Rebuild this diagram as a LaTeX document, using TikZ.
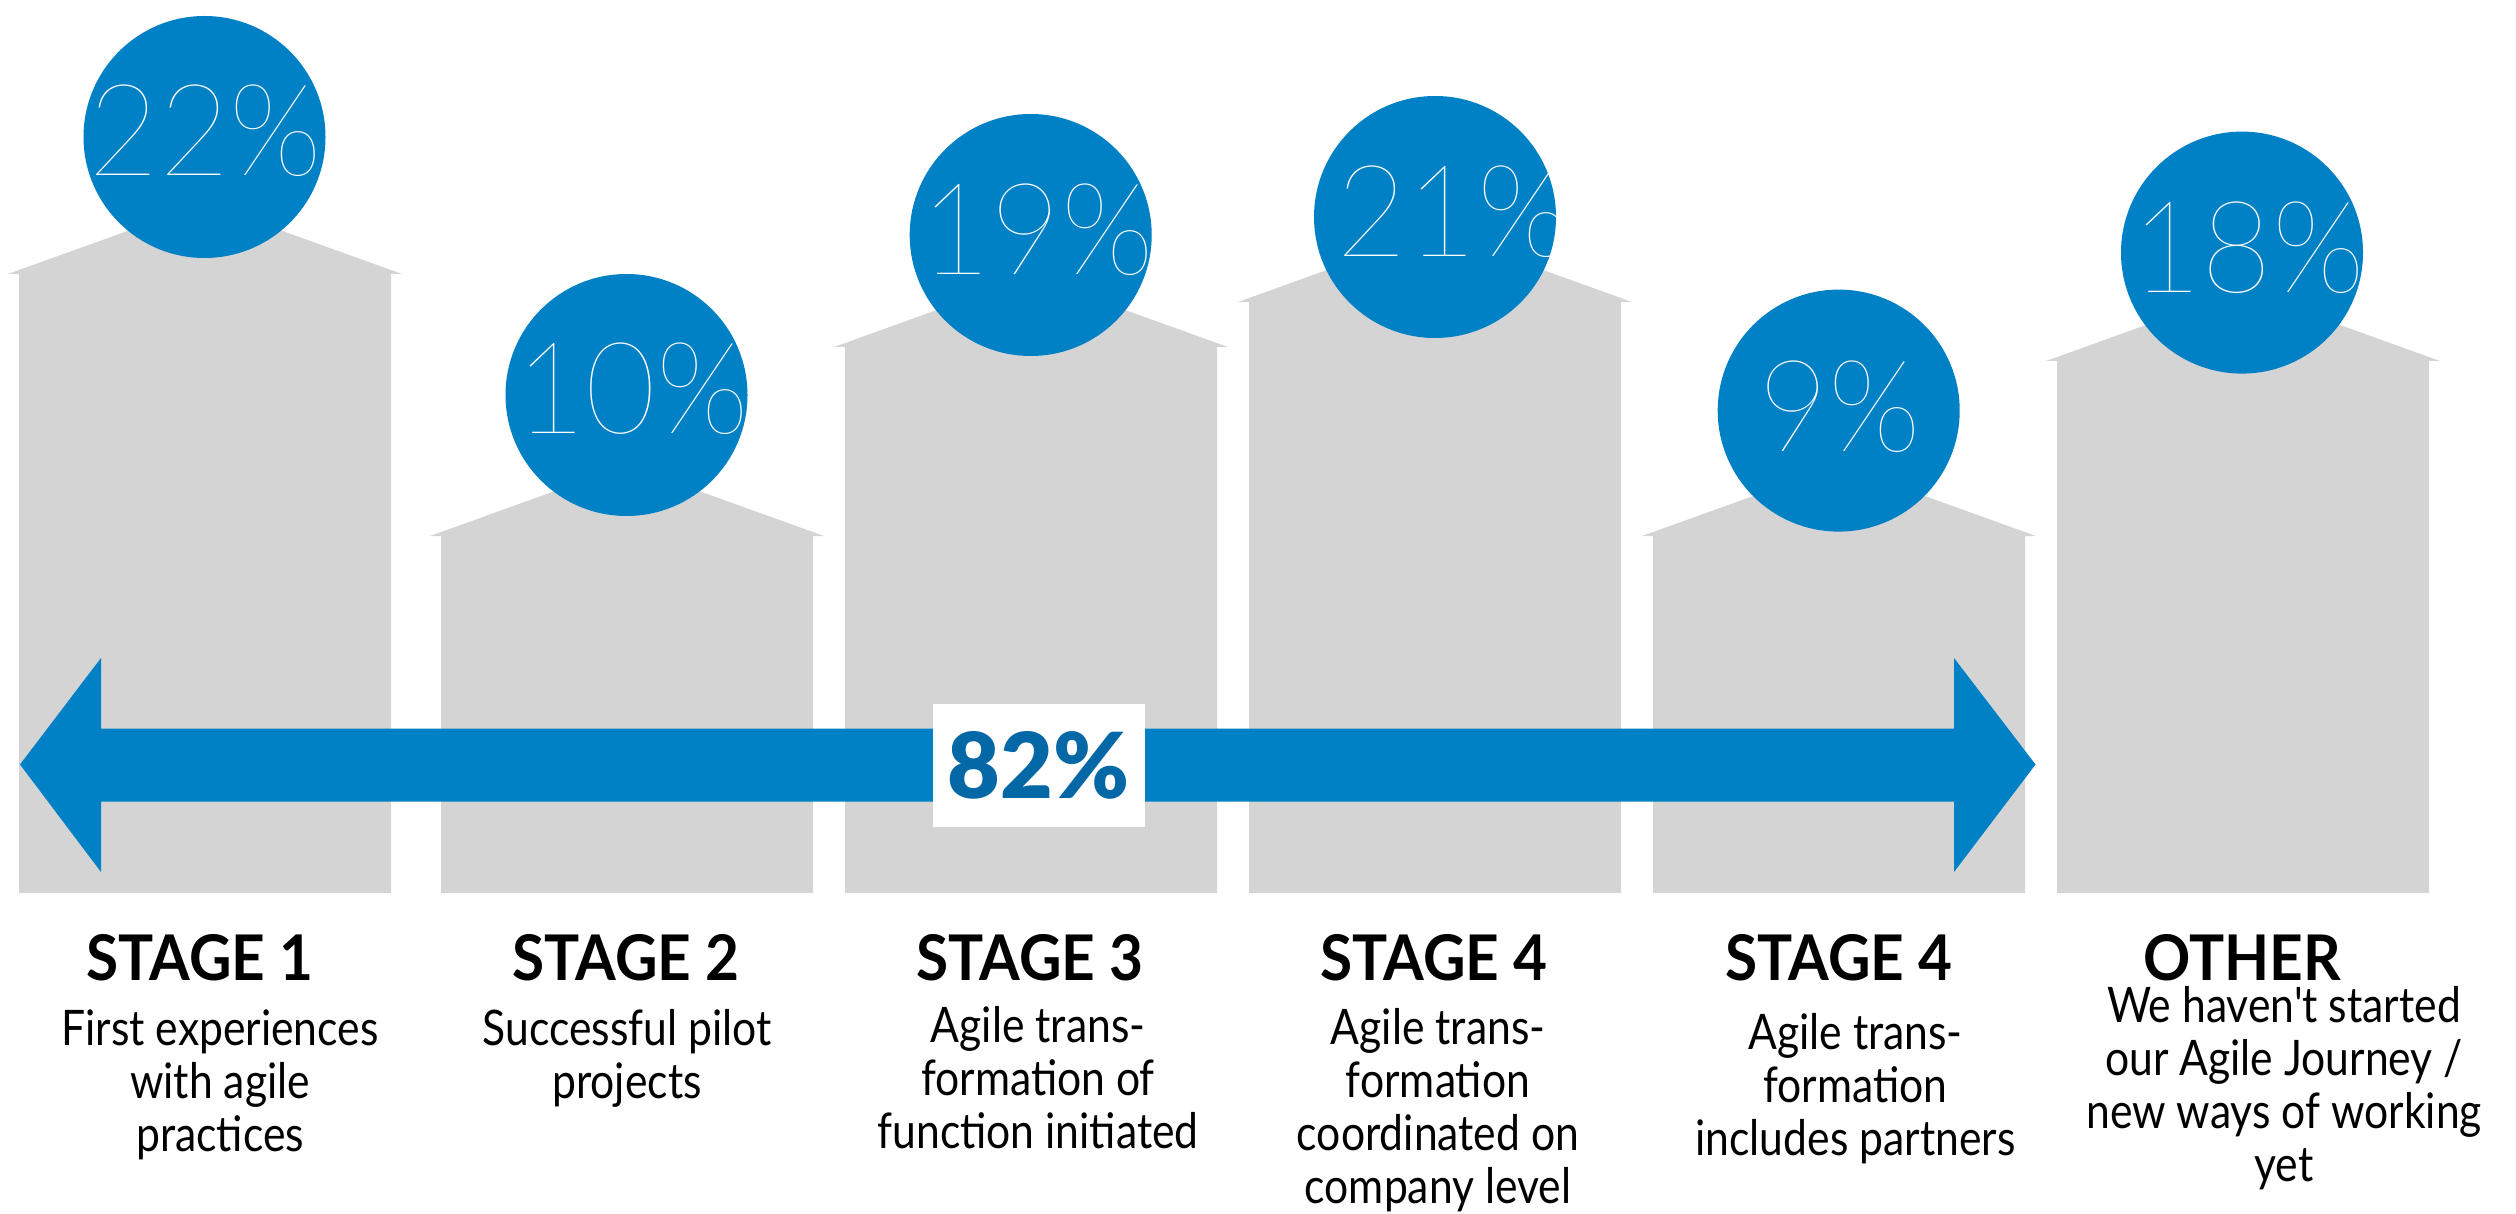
\documentclass[tikz,border=0pt]{standalone}
\usepackage{fontspec}
\setmainfont{Lato}
\newfontfamily\pctfont{Lato Thin}[FakeStretch=0.95]
\newfontfamily\headfont{Lato}[FakeStretch=0.93]
\newfontfamily\bodyfont{Lato}[FakeStretch=0.87]
\newfontfamily\sharefont{Lato Black}
\usetikzlibrary{shapes.geometric}

\definecolor{agileblue}{HTML}{0080C5}
\definecolor{deepblue}{HTML}{0368A5}
\definecolor{housegray}{HTML}{D4D4D4}

\tikzset{
  house/.style={fill=housegray},
  pctcircle/.style={circle, fill=agileblue, minimum size=242pt, inner sep=0pt},
  pcttext/.style={text=white, inner sep=0pt, font=\pctfont\fontsize{128}{128}\selectfont},
  stagehead/.style={anchor=base, inner sep=0pt, font=\headfont\bfseries\fontsize{63}{63}\selectfont},
  stagebody/.style={anchor=base, align=center, inner sep=0pt, font=\bodyfont\fontsize{49}{53}\selectfont},
  sharebox/.style={fill=white, minimum width=212pt, minimum height=123pt, inner sep=0pt,
    text=deepblue, font=\sharefont\fontsize{91}{91}\selectfont}
}

\begin{document}
\begin{tikzpicture}[x=1pt, y=-1pt]
\useasboundingbox (0,0) rectangle (2516,1214);

% Houses
\foreach \l/\r/\e in {19/391/274, 441/813/536, 845/1217/347, 1249/1621/302, 1653/2025/536, 2057/2429/361} {
    \fill[house] ({\l-11},\e) -- ({(\l+\r)/2},{\e-0.36*((\r-\l)/2+11)}) -- ({\r+11},\e)
        -- (\r,\e) -- (\r,893) -- (\l,893) -- (\l,\e) -- cycle;
}

% Percent circles
\foreach \n/\cx/\cy/\tx/\ty/\p in {1/204.5/137/205.5/131/22, 2/626.5/395/632/389/10,
    3/1030.7/235/1037/229.5/19, 4/1435/217/1453/211.6/21, 5/1838.7/410.6/1839.6/406.6/9,
    6/2242/252.6/2248/248/18} {
    \node[pctcircle] (c\n) at (\cx,\cy) {};
    \begin{scope}
        \clip (c\n.center) circle (121);
        \node[pcttext] (p\n) at (\tx,\ty) {\p\%};
    \end{scope}
}

% Double arrow
\fill[agileblue] (20,764.5) -- (101,658) -- (101,728.5) -- (1954,728.5) -- (1954,658)
    -- (2035.5,764.5) -- (1954,872) -- (1954,801.5) -- (101,801.5) -- (101,872) -- cycle;
\node[sharebox] (share) at (1038.6,765.4) {82\%};

% Stage labels
\node[stagehead] (h1) at (200,980) {STAGE 1};
\node[stagehead] (h2) at (626,980) {STAGE 2};
\node[stagehead] (h3) at (1030,980) {STAGE 3};
\node[stagehead] (h4) at (1434,980) {STAGE 4};
\node[stagehead] (h5) at (1839,980) {STAGE 4};
\node[stagehead] (h6) at (2242,980) {OTHER};

% (base = last line)
\node[stagebody] (d1) at (220,1151) {First experiences\\with agile\\practices};
\node[stagebody] (d2) at (627,1098) {Successful pilot\\projects};
\node[stagebody] (d3) at (1038,1148) {Agile trans-\\formation of\\function initiated};
\node[stagebody] (d4) at (1438,1203) {Agile trans-\\formation\\coordinated on\\company level};
\node[stagebody] (d5) at (1855.5,1155) {Agile trans-\\formation\\includes partners};
\node[stagebody] (d6) at (2284,1181.4) {We haven't started\\our Agile Journey /\\new ways of working\\yet};
\end{tikzpicture}
\end{document}
